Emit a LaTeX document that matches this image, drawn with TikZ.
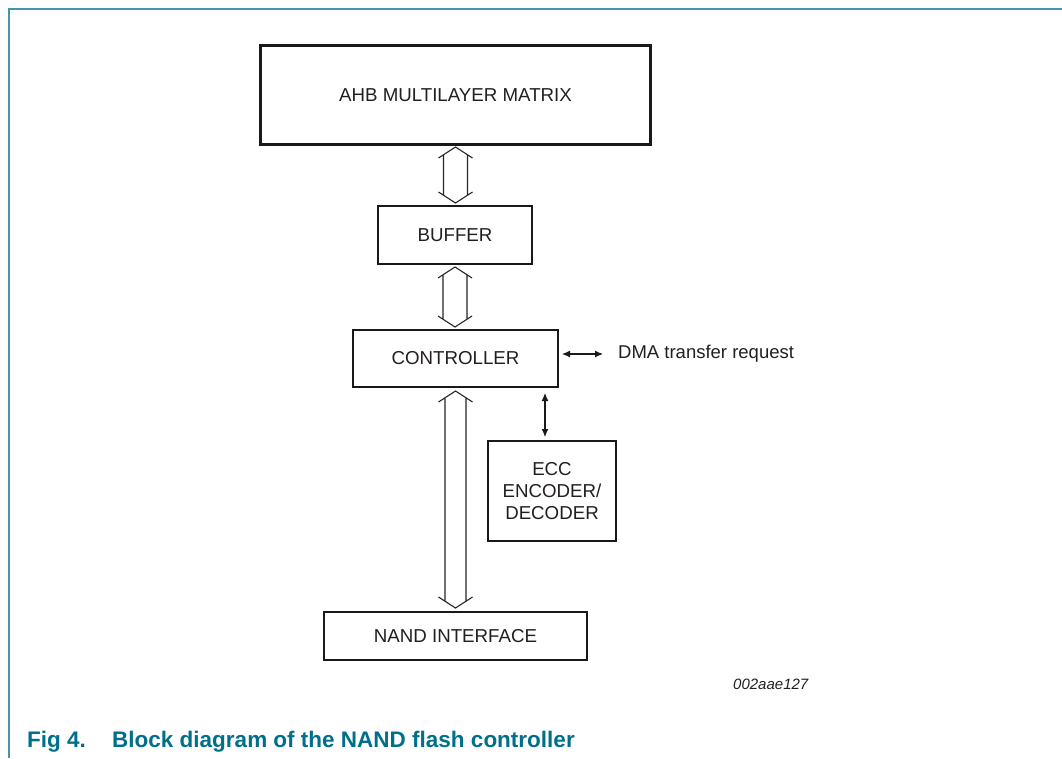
\documentclass[tikz,border=0pt]{standalone}
\usepackage{fontspec}
\setmainfont{Liberation Sans}
\usetikzlibrary{calc,arrows.meta}
\definecolor{txt}{RGB}{35,31,32}
\definecolor{capteal}{RGB}{0,112,138}
\definecolor{frameteal}{RGB}{70,150,170}
\newcommand\hollowarrow[4]{%
  \draw[hol] let \p1=(#1), \p2=(#2) in
   (\x1-17pt,\y1-11pt) -- (\x1,\y1) -- (\x1+17pt,\y1-11pt)
   (\x1-#3,\y1-#4) -- (\x1-#3,\y2+#4)
   (\x1+#3,\y1-#4) -- (\x1+#3,\y2+#4)
   (\x1-17pt,\y2+11pt) -- (\x1,\y2) -- (\x1+17pt,\y2+11pt);}
\begin{document}
\begin{tikzpicture}[x=1pt,y=-1pt,
  box/.style={draw=black!90, rectangle, inner sep=0pt, line width=2pt, text=txt,
              font=\fontsize{18.7}{22}\selectfont, align=center},
  hol/.style={draw=black!85, line width=1.1pt, line join=miter},
  smallarrow/.style={draw=black!90, line width=1.1pt,
              {Latex[length=8pt,width=7pt]}-{Latex[length=8pt,width=7pt]}},
  lbl/.style={inner sep=0pt, text=txt},
]
\useasboundingbox (0,0) rectangle (1062,758);
\fill[white] (0,0) rectangle (1062,758);
\draw[frameteal, line width=1.3pt] (9,758) -- (9,9) -- (1062,9);

\node[box, line width=3pt, minimum width=390pt, minimum height=99pt] (ahb) at (455.5,95) {AHB MULTILAYER MATRIX};
\node[box, minimum width=154pt, minimum height=58pt] (buf) at (455,235) {BUFFER};
\node[box, minimum width=205pt, minimum height=57pt] (ctrl) at (455.5,358.5) {CONTROLLER};
\node[box, minimum width=128pt, minimum height=100pt] (ecc) at (552,491) {ECC\\ENCODER/\\DECODER};
\node[box, minimum width=263pt, minimum height=48pt] (nand) at (455.5,636) {NAND INTERFACE};

\hollowarrow{$(ahb.south)+(0,1)$}{$(buf.north)+(0,-2)$}{12pt}{7.8pt}
\hollowarrow{$(buf.south)+(0,2)$}{$(ctrl.north)+(0,-2)$}{12pt}{7.8pt}
\hollowarrow{$(ctrl.south)+(0,3)$}{$(nand.north)+(0,-3)$}{10.5pt}{6.8pt}

\node[lbl, anchor=west, font=\fontsize{18.5}{22}\selectfont] (dma) at (618,354) {DMA transfer request};
\coordinate (dmay) at (0,354);
\draw[smallarrow, shorten <=3pt, shorten >=15pt] (ctrl.east |- dmay) -- (dma.west);

\coordinate (eccx) at (545,0);
\draw[smallarrow, shorten <=5pt, shorten >=3pt] (ctrl.south -| eccx) -- (ecc.north -| eccx);

\node[lbl, anchor=base west, font=\itshape\fontsize{15}{18}\selectfont] (code) at (733,689) {002aae127};

\node[lbl, anchor=base west, text=capteal, font=\bfseries\fontsize{22.5}{26}\selectfont] (cap) at (27,747)
  {\makebox[85pt][l]{Fig 4.}Block diagram of the NAND flash controller};
\end{tikzpicture}
\end{document}
